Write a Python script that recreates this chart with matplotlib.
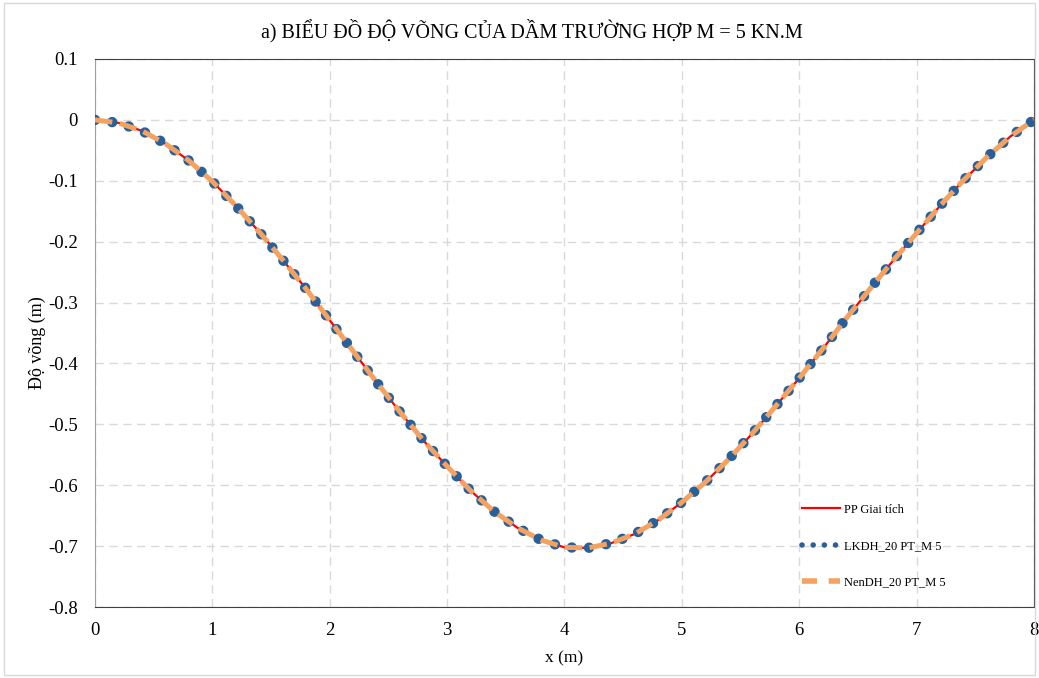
import matplotlib
matplotlib.use('Agg')
import matplotlib.pyplot as plt
from matplotlib.patches import Rectangle

# Số liệu (x theo m, độ võng theo m)
x_m = [0.0, 0.2, 0.4, 0.6, 0.8, 1.0, 1.2, 1.4, 1.6, 1.8, 2.0,
       2.2, 2.4, 2.6, 2.8, 3.0, 3.2, 3.4, 3.6, 3.8, 4.0,
       4.2, 4.4, 4.6, 4.8, 5.0, 5.2, 5.4, 5.6, 5.8, 6.0,
       6.2, 6.4, 6.6, 6.8, 7.0, 7.2, 7.4, 7.6, 7.8, 8.0]
pp_giai_tich = [0.0, -0.005, -0.018, -0.039, -0.067, -0.101, -0.141, -0.184, -0.230, -0.278, -0.329,
                -0.380, -0.431, -0.480, -0.527, -0.569, -0.609, -0.643, -0.670, -0.690, -0.702,
                -0.703, -0.695, -0.680, -0.657, -0.628, -0.595, -0.557, -0.515, -0.470, -0.424,
                -0.376, -0.326, -0.278, -0.231, -0.186, -0.141, -0.099, -0.061, -0.027, 0.0]
lkdh_20pt = list(pp_giai_tich)
nendh_20pt = list(pp_giai_tich)

x_ticks = [0, 1, 2, 3, 4, 5, 6, 7, 8]
y_ticks = [0.1, 0, -0.1, -0.2, -0.3, -0.4, -0.5, -0.6, -0.7, -0.8]

plt.rcParams['font.family'] = ['Liberation Serif', 'DejaVu Serif']

fig = plt.figure(figsize=(10.39, 6.78), dpi=100)
ax = fig.add_axes([0.0914, 0.1047, 0.9038, 0.8083])

ax.plot(x_m, pp_giai_tich, color='#FF0000', lw=1.6, label='PP Giai tích', zorder=3)
ax.plot(x_m, lkdh_20pt, color='#2A6099', lw=7.5, linestyle=(0, (0.01, 1.65)),
        dash_capstyle='round', label='LKDH_20 PT_M 5', zorder=4)
ax.plot(x_m, nendh_20pt, color='#F4A261', lw=3.6, linestyle=(0, (3.5, 1.5)),
        label='NenDH_20 PT_M 5', zorder=5)

ax.set_xlim(0, 8)
ax.set_ylim(-0.8, 0.1)
ax.set_xticks(x_ticks)
ax.set_yticks(y_ticks)
ax.set_yticklabels(['0.1', '0', '-0.1', '-0.2', '-0.3', '-0.4', '-0.5', '-0.6', '-0.7', '-0.8'])
ax.tick_params(labelsize=13.5, length=0)
ax.tick_params(axis='x', pad=11)
ax.tick_params(axis='y', pad=12.5)
ax.grid(True, color='#D9D9D9', linestyle=(0, (6, 4)), lw=1)
for s in ['top', 'right', 'bottom']:
    ax.spines[s].set_color('#404040')
ax.spines['left'].set_color('#A0A0A0')

ax.set_xlabel('x (m)', fontsize=12.5, labelpad=8)
ax.set_ylabel('Độ võng (m)', fontsize=13)
ax.yaxis.set_label_coords(-0.052, 0.482)
fig.text(0.512, 0.955, 'a) BIỂU ĐỒ ĐỘ VÕNG CỦA DẦM TRƯỜNG HỢP M = 5 KN.M',
         fontsize=14.5, ha='center', va='center')

leg = ax.legend(loc='lower left', bbox_to_anchor=(0.748, 0.025), borderaxespad=0,
                frameon=False, fontsize=9, labelspacing=1.95, handlelength=3.0,
                handletextpad=0.3)
for h in leg.get_lines():
    if h.get_label().startswith('LKDH'):
        h.set_linewidth(4)
        h.set_linestyle((0, (0.01, 2.0)))
    elif h.get_label().startswith('NenDH'):
        h.set_linewidth(4)
        h.set_linestyle((0, (2.7, 2.1)))

fig.patches.append(Rectangle((0.004, 0.004), 0.992, 0.992, transform=fig.transFigure,
                             fill=False, edgecolor='#D9D9D9', lw=1))

fig.savefig('out.png', dpi=100)
